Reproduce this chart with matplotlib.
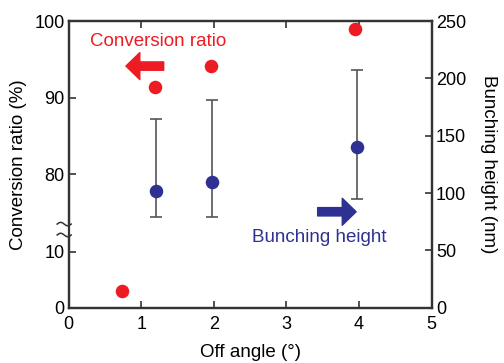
import numpy as np
import matplotlib
matplotlib.use('Agg')
import matplotlib.pyplot as plt
from matplotlib.patches import Rectangle

plt.rcParams['font.family'] = ['Liberation Sans', 'DejaVu Sans']
plt.rcParams['font.size'] = 13

# conversion ratio (left axis, broken scale)
angle_cr = [0.73, 1.19, 1.96, 3.95]
conv_ratio = [3.0, 91.4, 94.2, 99.0]

# bunching height (right axis) with asymmetric error bars
angle_bh = [1.2, 1.97, 3.97]
bunch_h = [102, 110, 140]
bunch_lo = [79, 79, 95]
bunch_hi = [165, 181, 207]

x_ticks = [0, 1, 2, 3, 4, 5]
left_ticks = [0, 10, 80, 90, 100]
right_ticks = [0, 50, 100, 150, 200, 250]

red = '#ed1c24'
blue = '#2e3192'
spine = '#333333'

# piecewise scale for the broken left axis
brk_v = [0, 10, 80, 100]
brk_y = [0, 49, 116.3, 250]


def fwd(v):
    return np.interp(v, brk_v, brk_y)


def inv(y):
    return np.interp(y, brk_y, brk_v)


fig = plt.figure(figsize=(5.04, 3.63), dpi=100)
ax = fig.add_axes([0.136, 0.152, 0.7205, 0.79])
ax2 = ax.twinx()

ax.set_yscale('function', functions=(fwd, inv))
ax.set_ylim(0, 100)
ax.set_xlim(0, 5)
ax2.set_ylim(0, 250)

err = [np.array(bunch_h) - np.array(bunch_lo), np.array(bunch_hi) - np.array(bunch_h)]
ax2.errorbar(angle_bh, bunch_h, yerr=err, fmt='none', ecolor='#555555',
             elinewidth=1.2, capsize=4.5, capthick=1.2, zorder=2)
ax2.scatter(angle_bh, bunch_h, s=95, color=blue, zorder=3, linewidths=0)
ax2.scatter(angle_cr, fwd(np.array(conv_ratio)), s=95, color=red, zorder=3, linewidths=0)

ax.set_xticks(x_ticks)
ax.set_yticks(left_ticks)
ax.set_yticklabels([str(t) for t in left_ticks])
ax.yaxis.set_minor_locator(matplotlib.ticker.NullLocator())
ax2.set_yticks(right_ticks)

for a in (ax, ax2):
    for s in a.spines.values():
        s.set_linewidth(1.6)
        s.set_color(spine)
    a.tick_params(direction='in', length=5, width=1.2, color=spine, labelsize=13, pad=3)
ax.tick_params(axis='x', top=True, pad=6)

ax.set_xlabel('Off angle (°)', fontsize=13.5, labelpad=8)
ax.set_ylabel('Conversion ratio (%)', fontsize=13.5, labelpad=5)
ax2.set_ylabel('Bunching height (nm)', fontsize=13.5, rotation=270, labelpad=22)

# axis break mark on the left spine
ax.add_patch(Rectangle((-0.01, 0.256), 0.02, 0.034, transform=ax.transAxes,
                       facecolor='white', edgecolor='none', clip_on=False, zorder=5))
t = np.linspace(0, 2 * np.pi, 40)
for yb in (0.292, 0.254):
    ax.plot(-0.012 + 0.0193 * (t / np.pi - 1), yb + 0.006 * np.sin(t),
            transform=ax.transAxes, color=spine, lw=1.1, clip_on=False, zorder=6)

# annotations
ax.text(0.246, 0.928, 'Conversion ratio', transform=ax.transAxes, color=red,
        ha='center', va='center', fontsize=13.5)
ax.annotate('', xy=(0.158, 0.843), xytext=(0.262, 0.843),
            xycoords='axes fraction', textcoords='axes fraction',
            arrowprops=dict(arrowstyle='simple,head_length=1.0,head_width=1.94,tail_width=0.6',
                            mutation_scale=10, color=red, shrinkA=0, shrinkB=0))
ax.text(0.691, 0.245, 'Bunching height', transform=ax.transAxes, color=blue,
        ha='center', va='center', fontsize=13.5)
ax.annotate('', xy=(0.792, 0.335), xytext=(0.686, 0.335),
            xycoords='axes fraction', textcoords='axes fraction',
            arrowprops=dict(arrowstyle='simple,head_length=1.0,head_width=1.94,tail_width=0.6',
                            mutation_scale=10, color=blue, shrinkA=0, shrinkB=0))

fig.savefig('out.png', dpi=100)
